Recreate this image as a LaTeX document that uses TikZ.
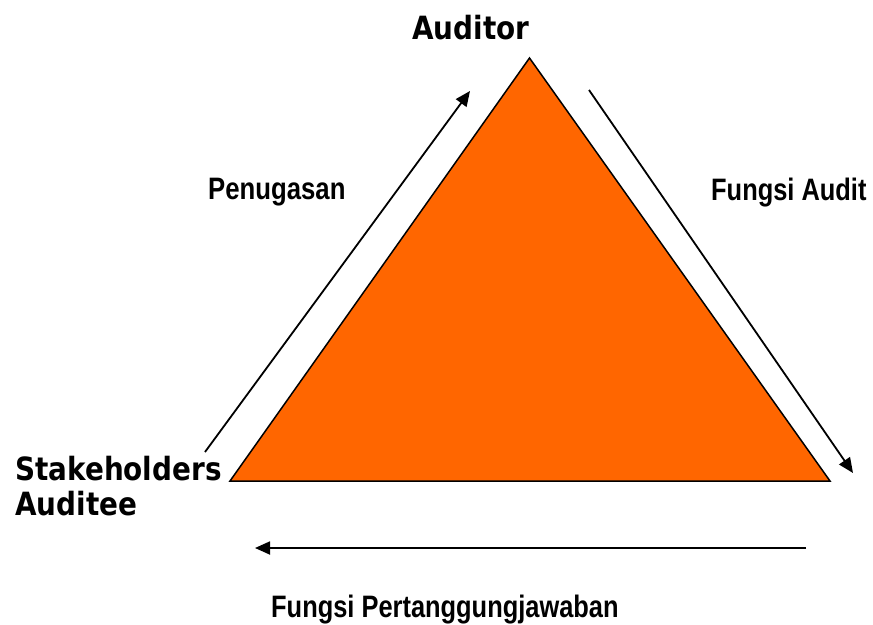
\documentclass[tikz,border=0pt]{standalone}
\usepackage{fontspec}
\setmainfont{Liberation Sans}
\newfontfamily\verd{DejaVu Sans}
\usetikzlibrary{arrows.meta}
\definecolor{triorange}{HTML}{FF6600}
\tikzset{
  bigtxt/.style={anchor=base west, inner sep=0pt, font=\verd\bfseries\fontsize{32}{36}\selectfont},
  smalltxt/.style={anchor=base west, inner sep=0pt, font=\bfseries\fontsize{31}{35}\selectfont},
  flow/.style={line width=1.8pt, -{Triangle[length=15pt,width=13pt]}},
  tri/.style={fill=triorange, draw=black, line width=1.5pt, line join=miter}
}
\begin{document}
\begin{tikzpicture}[x=1pt,y=-1pt]
\useasboundingbox (0,0) rectangle (873,624);
\coordinate (top) at (529.5,58);
\coordinate (bl) at (230,481);
\coordinate (br) at (830,481);
\draw[tri] (top) -- (bl) -- (br) -- cycle;
\coordinate (l1) at (205,452);
\coordinate (l2) at (470,91);
\coordinate (r1) at (589,90);
\coordinate (r2) at (853,473);
\coordinate (b1) at (806,548);
\coordinate (b2) at (255,548);
\draw[flow] (l1) -- (l2);
\draw[flow] (r1) -- (r2);
\draw[flow] (b1) -- (b2);
\node[bigtxt] (auditor) at (412,39) {\scalebox{0.87}[1]{Auditor}};
\node[bigtxt] (stake) at (15,480) {\scalebox{0.87}[1]{Stakeholders}};
\node[bigtxt] (auditee) at (15,515) {\scalebox{0.87}[1]{Auditee}};
\node[smalltxt] (penug) at (208,199) {\scalebox{0.83}[1]{Penugasan}};
\node[smalltxt] (fa) at (711,200) {\scalebox{0.82}[1]{Fungsi Audit}};
\node[smalltxt] (fp) at (271,617) {\scalebox{0.82}[1]{Fungsi Pertanggungjawaban}};
\end{tikzpicture}
\end{document}
